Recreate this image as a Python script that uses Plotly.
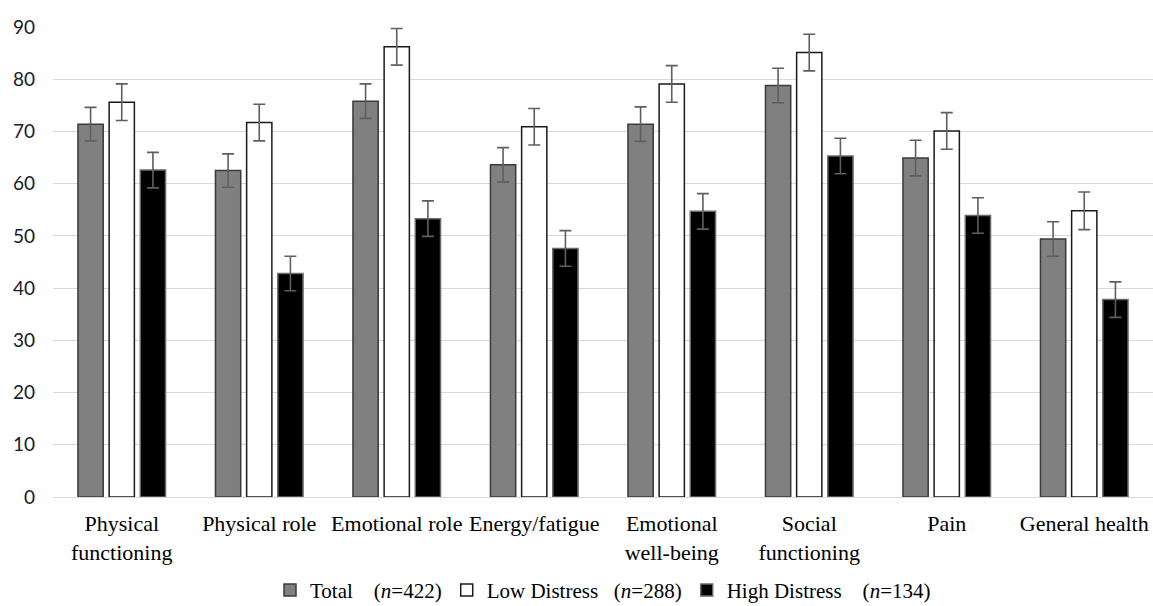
import plotly.graph_objects as go

categories = ["Physical<br>functioning", "Physical role", "Emotional role", "Energy/fatigue",
              "Emotional<br>well-being", "Social<br>functioning", "Pain", "General health"]
total = [71.4, 62.5, 75.8, 63.6, 71.4, 78.8, 64.9, 49.4]
total_err = [3.2, 3.2, 3.3, 3.3, 3.3, 3.3, 3.4, 3.3]
low = [75.6, 71.7, 86.2, 70.9, 79.1, 85.1, 70.1, 54.8]
low_err = [3.5, 3.5, 3.5, 3.5, 3.5, 3.5, 3.5, 3.6]
high = [62.6, 42.8, 53.3, 47.6, 54.7, 65.3, 53.9, 37.8]
high_err = [3.4, 3.3, 3.4, 3.4, 3.4, 3.4, 3.4, 3.4]
NB = "\u00a0"
names = ["Total" + NB * 4 + "(<i>n</i>=422)",
         "Low Distress" + NB * 3 + "(<i>n</i>=288)",
         "High Distress" + NB * 4 + "(<i>n</i>=134)"]
y_ticks = [0, 10, 20, 30, 40, 50, 60, 70, 80, 90]

series = [(total, total_err, "#808080", "#3a3a3a"),
          (low, low_err, "#ffffff", "#1a1a1a"),
          (high, high_err, "#000000", "#6a6a6a")]

fig = go.Figure()
for (vals, errs, fill, edge), nm in zip(series, names):
    fig.add_trace(go.Bar(
        x=categories, y=vals, name=nm,
        marker=dict(color=fill, line=dict(color=edge, width=1.5)),
        error_y=dict(type="data", array=errs, visible=True, color="#5f5f5f",
                     thickness=1.6, width=6),
    ))

fig.update_layout(
    width=1153, height=606,
    margin=dict(l=53, r=0, t=27, b=109),
    paper_bgcolor="white", plot_bgcolor="white",
    barmode="group", bargap=0.32, bargroupgap=0.19,
    showlegend=True,
    legend=dict(orientation="h", x=0.5, xanchor="center", xref="paper",
                y=0.026, yref="container", yanchor="middle",
                font=dict(family="Liberation Serif", size=21, color="#000"),
                itemwidth=30, traceorder="normal"),
    xaxis=dict(showgrid=False, tickfont=dict(family="Liberation Serif", size=22, color="#000"),
               showline=True, linecolor="#d9d9d9", linewidth=1, ticks="", ticklabelstandoff=7),
    yaxis=dict(range=[0, 90], tickvals=y_ticks, showgrid=True, gridcolor="#d9d9d9", gridwidth=1,
               zeroline=False, showline=False,
               tickfont=dict(family="Lato", size=19, color="#1a1a2a"), ticklabelstandoff=17),
)

fig.write_html("out.html",
               config={"displayModeBar": False},
               post_script="document.body.style.margin='0';document.body.style.overflow='hidden';")
